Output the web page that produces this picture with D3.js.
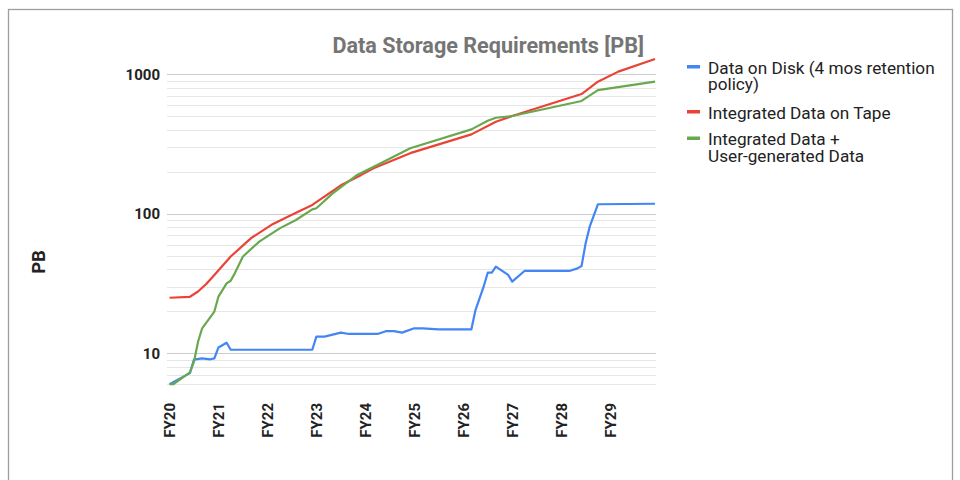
<!DOCTYPE html>
<html>
<head>
<meta charset="utf-8">
<script src="https://cdn.jsdelivr.net/npm/d3@7"></script>
<style>
  html, body { margin: 0; padding: 0; background: #fff; }
  svg { display: block; font-family: Roboto, "Noto Sans", sans-serif; }
</style>
</head>
<body>
<svg id="chart" width="960" height="480"></svg>
<script>
// Month index from start of FY20 (0 = first month of FY20) and storage in PB
const diskMonths = [0, 5, 6, 8, 10, 11, 12, 14, 15, 35, 36, 38, 42, 44, 51, 53, 55, 57, 60, 62, 66, 74, 75, 77, 78, 79, 80, 83, 84, 87, 98, 100, 101, 102, 103, 105, 119];
const diskValues = [6.0, 7.2, 9.0, 9.2, 9.05, 9.2, 11.0, 11.9, 10.6, 10.6, 13.15, 13.15, 14.05, 13.75, 13.75, 14.4, 14.4, 14.05, 15.1, 15.1, 14.85, 14.85, 20.4, 30.0, 37.8, 37.8, 41.8, 36.5, 32.6, 38.9, 38.9, 40.6, 42.2, 61.5, 80.9, 117, 118];

const tapeMonths = [0, 5, 7, 9, 11, 15, 20, 25, 30, 35, 42, 47, 50, 59, 74, 80, 84, 101, 105, 110, 119];
const tapeValues = [25.0, 25.4, 27.7, 31.4, 36.4, 49.4, 66.9, 83.3, 98.3, 115.8, 160, 190, 212, 272, 371, 457, 502, 722, 885, 1045, 1288];

const userMonths = [0, 1, 5, 6, 7, 8, 11, 12, 14, 15, 16, 18, 22, 27, 31, 35, 36, 40, 46, 52, 59, 74, 78, 80, 84, 101, 105, 119];
const userValues = [6.0, 6.0, 7.3, 8.7, 12.1, 15.1, 19.9, 25.5, 31.7, 33.1, 37.4, 49.4, 63.2, 78.6, 90.2, 107.6, 109.5, 140, 190, 232, 295, 403, 464, 488, 502, 644, 771, 885];

const fiscalYears = ["FY20", "FY21", "FY22", "FY23", "FY24", "FY25", "FY26", "FY27", "FY28", "FY29"];
const yTickValues = [10, 100, 1000];

const svg = d3.select("#chart");

// outer frame
svg.append("rect")
  .attr("x", 8.5).attr("y", 9.5)
  .attr("width", 944).attr("height", 480)
  .attr("fill", "none").attr("stroke", "#9e9e9e").attr("stroke-width", 1.3);

const x = d3.scaleLinear().domain([0, 119]).range([169.5, 655]);
const y = d3.scaleLog().domain([6, 1000]).range([384.2, 74.3]);

const plotLeft = 167, plotRight = 656;

// gridlines: minor at 2..9 multiples, major at decades
const minorVals = [];
[1, 10, 100].forEach(dec => {
  for (let k = 1; k <= 9; k++) {
    const v = k * dec;
    if (v >= 6 && v <= 1000 && !yTickValues.includes(v)) minorVals.push(v);
  }
});

const grid = svg.append("g");
grid.selectAll("line.minor").data(minorVals).join("line")
  .attr("class", "minor")
  .attr("x1", plotLeft).attr("x2", plotRight)
  .attr("y1", d => Math.round(y(d)) + 0.5).attr("y2", d => Math.round(y(d)) + 0.5)
  .attr("stroke", "#e6e6e6").attr("stroke-width", 1);
grid.selectAll("line.major").data(yTickValues).join("line")
  .attr("class", "major")
  .attr("x1", plotLeft).attr("x2", plotRight)
  .attr("y1", d => Math.round(y(d)) + 0.5).attr("y2", d => Math.round(y(d)) + 0.5)
  .attr("stroke", "#cccccc").attr("stroke-width", 1.2);

// y axis tick labels
const yAxis = d3.axisLeft(y).tickValues(yTickValues).tickFormat(d3.format("d")).tickSize(0).tickPadding(0);
const yg = svg.append("g").attr("transform", `translate(${plotLeft - 7},0)`).call(yAxis);
yg.select(".domain").remove();
yg.selectAll("text")
  .attr("font-family", "Roboto, sans-serif")
  .attr("font-size", 15).attr("font-weight", "bold").attr("fill", "#222");

// x axis labels, rotated
const xAxis = d3.axisBottom(x).tickValues(fiscalYears.map((_, i) => i * 12))
  .tickFormat((d, i) => fiscalYears[i]).tickSize(0).tickPadding(0);
const xg = svg.append("g").attr("transform", "translate(0,403)").call(xAxis);
xg.select(".domain").remove();
xg.selectAll("text")
  .attr("font-family", "Roboto, sans-serif")
  .attr("font-size", 15).attr("font-weight", "bold").attr("fill", "#222")
  .attr("transform", "rotate(-90)")
  .attr("text-anchor", "end")
  .attr("x", 0).attr("y", 0).attr("dy", "0.36em");

// y axis title
svg.append("text")
  .attr("transform", "translate(38,262) rotate(-90)")
  .attr("text-anchor", "middle").attr("dy", "0.36em")
  .attr("font-size", 18.5).attr("font-weight", "bold").attr("fill", "#222")
  .text("PB");

// chart title
svg.append("text")
  .attr("x", 644).attr("y", 53)
  .attr("text-anchor", "end")
  .attr("font-size", 21.6).attr("font-weight", "bold").attr("fill", "#757575")
  .text("Data Storage Requirements [PB]");

// series lines
const series = [
  { months: diskMonths, values: diskValues, color: "#4285F4" },
  { months: tapeMonths, values: tapeValues, color: "#EA4335" },
  { months: userMonths, values: userValues, color: "#6AA84F" }
];
const line = d3.line().x(d => x(d[0])).y(d => y(d[1]));
svg.append("g").selectAll("path").data(series).join("path")
  .attr("d", s => line(s.months.map((m, i) => [m, s.values[i]])))
  .attr("fill", "none")
  .attr("stroke", s => s.color)
  .attr("stroke-width", 2.2)
  .attr("stroke-linejoin", "round");

// legend, one text element per wrapped line
const legendItems = [
  { lines: ["Data on Disk (4 mos retention", "policy)"], color: "#4285F4", y: 73.5 },
  { lines: ["Integrated Data on Tape"], color: "#EA4335", y: 118.5 },
  { lines: ["Integrated Data +", "User-generated Data"], color: "#6AA84F", y: 145 }
];
const lg = svg.append("g");
legendItems.forEach(it => {
  lg.append("rect")
    .attr("x", 687).attr("y", it.y - 8.5)
    .attr("width", 13).attr("height", 3.5)
    .attr("fill", it.color);
  it.lines.forEach((l, j) => {
    lg.append("text")
      .attr("x", 708).attr("y", it.y + j * 16.8)
      .attr("font-size", 17.2).attr("fill", "#222")
      .text(l);
  });
});
</script>
</body>
</html>
